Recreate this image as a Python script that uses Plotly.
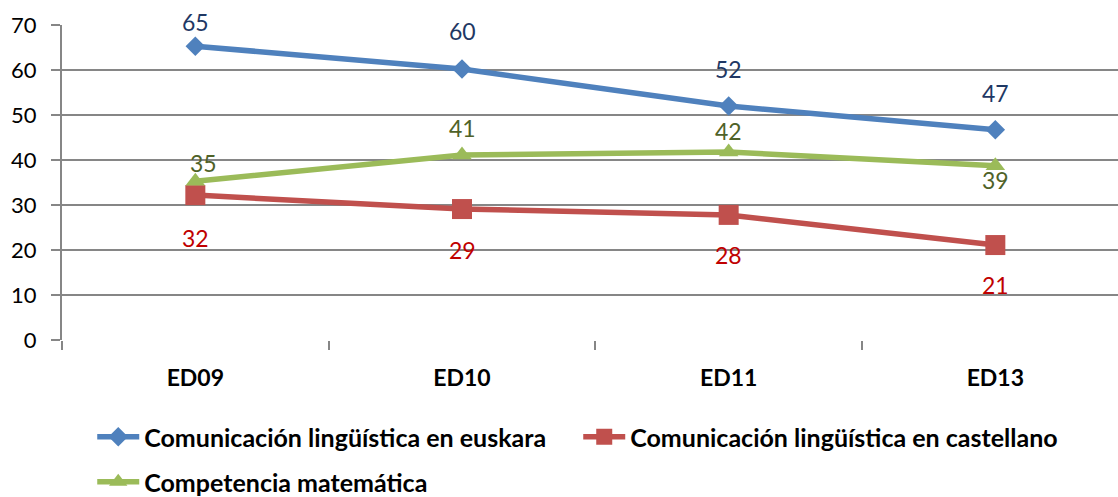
import plotly.graph_objects as go

categories = ["ED09", "ED10", "ED11", "ED13"]
euskara = [65.3, 60.2, 52.0, 46.7]
castellano = [32.2, 29.1, 27.8, 21.1]
matematica = [35.3, 41.1, 41.8, 38.7]
euskara_labels = ["65", "60", "52", "47"]
castellano_labels = ["32", "29", "28", "21"]
matematica_labels = ["35", "41", "42", "39"]
y_ticks = [0, 10, 20, 30, 40, 50, 60, 70]

# label offsets (style only)
euskara_shift = [24, 38, 37, 37]
castellano_shift = [-43, -41, -40, -40]
matematica_shift = [18, 27, 21, -14]

FONT = "Lato"
BLUE, RED, GREEN = "#4F81BD", "#C0504D", "#9BBB59"

fig = go.Figure()
fig.add_trace(go.Scatter(
    x=categories, y=euskara, name="Comunicación lingüística en euskara",
    mode="lines+markers", line=dict(color=BLUE, width=5.5),
    marker=dict(symbol="diamond", size=15, color=BLUE),
    cliponaxis=False, legend="legend"))
fig.add_trace(go.Scatter(
    x=categories, y=castellano, name="Comunicación lingüística en castellano",
    mode="lines+markers", line=dict(color=RED, width=5.5),
    marker=dict(symbol="square", size=20, color=RED),
    cliponaxis=False, legend="legend"))
fig.add_trace(go.Scatter(
    x=categories, y=matematica, name="Competencia matemática",
    mode="lines+markers", line=dict(color=GREEN, width=5.5),
    marker=dict(symbol="triangle-up", size=17, color=GREEN),
    cliponaxis=False, legend="legend2"))

annotations = []
for vals, labs, shifts, col in [
    (euskara, euskara_labels, euskara_shift, "#1F3864"),
    (castellano, castellano_labels, castellano_shift, "#C00000"),
    (matematica, matematica_labels, matematica_shift, "#4F6228"),
]:
    for i, (c, v, t, s) in enumerate(zip(categories, vals, labs, shifts)):
        annotations.append(dict(
            x=c, y=v, text=t, showarrow=False, yshift=s,
            xshift=8 if (col == "#4F6228" and i == 0) else 0,
            font=dict(size=23, family=FONT, color=col)))

legend_font = dict(size=25, family=FONT, color="black", weight="bold")
LEG_X = 0.0825
fig.update_layout(
    width=1118, height=497,
    margin=dict(l=62, r=0, t=25, b=157, autoexpand=False),
    paper_bgcolor="white", plot_bgcolor="white",
    font=dict(family=FONT, color="black"),
    showlegend=True,
    annotations=annotations,
    legend=dict(orientation="h", xref="container", x=LEG_X, xanchor="left",
                yref="container", y=1 - 437 / 497, yanchor="middle",
                font=legend_font, entrywidth=429, itemwidth=42,
                bgcolor="rgba(0,0,0,0)"),
    legend2=dict(orientation="h", xref="container", x=LEG_X, xanchor="left",
                 yref="container", y=1 - 482 / 497, yanchor="middle",
                 font=legend_font, itemwidth=42, bgcolor="rgba(0,0,0,0)"),
)
fig.update_xaxes(
    range=[-0.5, 3.46], showgrid=False, tickson="boundaries", ticks="outside",
    ticklen=9, tickcolor="#868686", tickwidth=2,
    showline=False, zeroline=False, ticklabelstandoff=22,
    tickfont=dict(size=23, family=FONT, color="black", weight="bold"))
fig.update_yaxes(
    range=[0, 70], tickvals=y_ticks, showgrid=True, gridcolor="#868686", gridwidth=2,
    showline=True, linecolor="#868686", linewidth=2, ticks="outside", ticklen=9,
    tickcolor="#868686", tickwidth=2, zeroline=False, ticklabelstandoff=10,
    tickfont=dict(size=22, family=FONT, color="black"))

fig.write_html("out.html", config={"displayModeBar": False},
               post_script="document.body.style.margin='0';")
